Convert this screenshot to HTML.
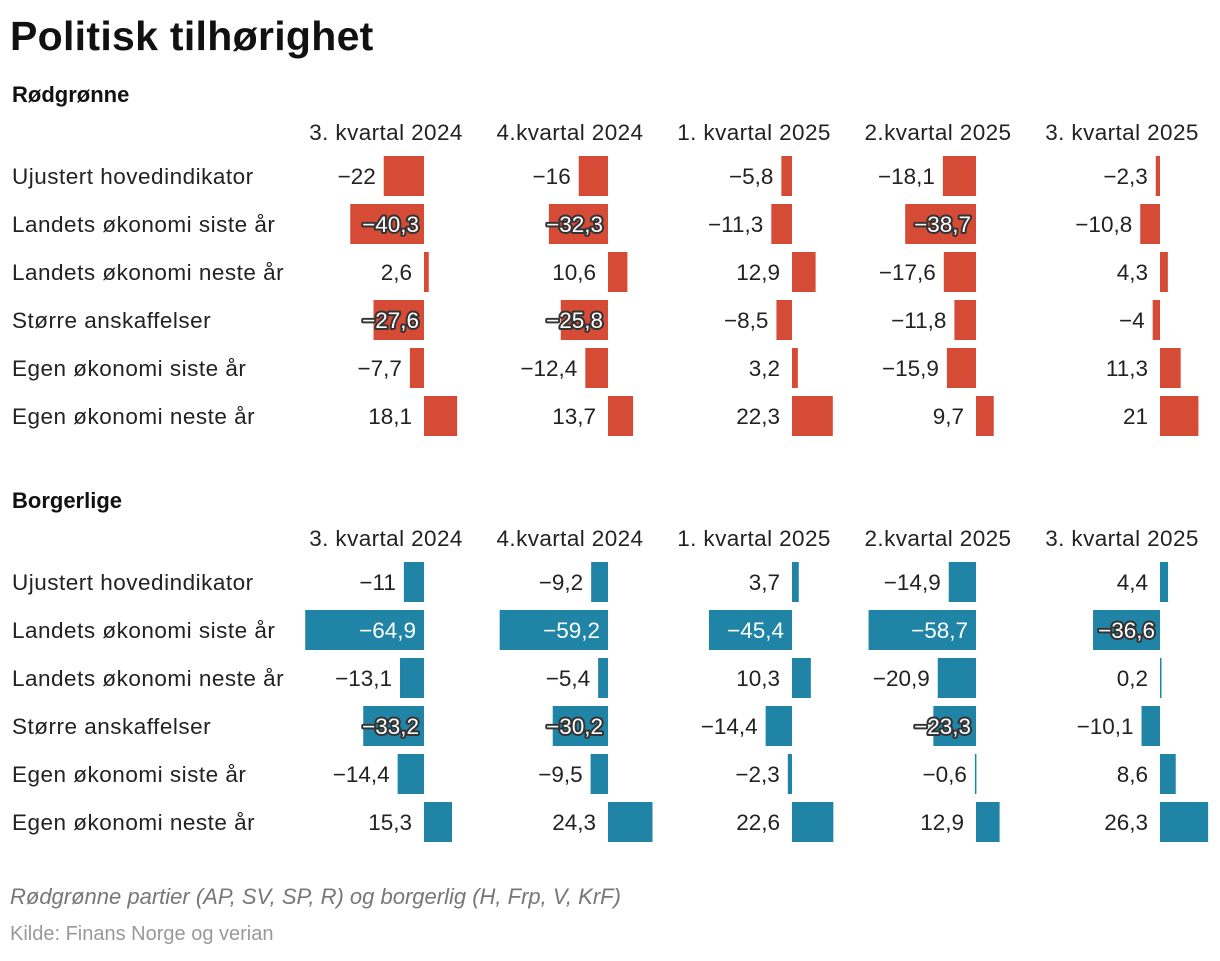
<!DOCTYPE html>
<html><head><meta charset="utf-8">
<style>
body{margin:0;background:#fff;font-family:"Liberation Sans",sans-serif;}
svg text{font-family:"Liberation Sans",sans-serif;}
</style></head>
<body>
<svg id="c" width="1220" height="956" xmlns="http://www.w3.org/2000/svg">
<text x="10" y="50" font-size="41" font-weight="bold" fill="#111" letter-spacing="0.3">Politisk tilhørighet</text>
<text x="10" y="904" font-size="22" font-style="italic" fill="#777">Rødgrønne partier (AP, SV, SP, R) og borgerlig (H, Frp, V, KrF)</text>
<text x="10" y="940" font-size="20" fill="#999">Kilde: Finans Norge og verian</text>
</svg>
<script>
const categories=["Ujustert hovedindikator","Landets økonomi siste år","Landets økonomi neste år","Større anskaffelser","Egen økonomi siste år","Egen økonomi neste år"];
const periods=["3. kvartal 2024","4.kvartal 2024","1. kvartal 2025","2.kvartal 2025","3. kvartal 2025"];
const groups=["Rødgrønne","Borgerlige"];
const redValues=[
[-22,-16,-5.8,-18.1,-2.3],
[-40.3,-32.3,-11.3,-38.7,-10.8],
[2.6,10.6,12.9,-17.6,4.3],
[-27.6,-25.8,-8.5,-11.8,-4],
[-7.7,-12.4,3.2,-15.9,11.3],
[18.1,13.7,22.3,9.7,21]];
const blueValues=[
[-11,-9.2,3.7,-14.9,4.4],
[-64.9,-59.2,-45.4,-58.7,-36.6],
[-13.1,-5.4,10.3,-20.9,0.2],
[-33.2,-30.2,-14.4,-23.3,-10.1],
[-14.4,-9.5,-2.3,-0.6,8.6],
[15.3,24.3,22.6,12.9,26.3]];
const NS="http://www.w3.org/2000/svg";
const svg=document.getElementById('c');
const scale=1.83;
const FS=22.5;
function zeroX(i){return 424+i*184;}
function mk(tag,attrs,txt){const e=document.createElementNS(NS,tag);for(const k in attrs)e.setAttribute(k,attrs[k]);if(txt!==undefined)e.textContent=txt;svg.appendChild(e);return e;}
function fmt(v){return (v<0?"−":"")+String(Math.abs(v)).replace('.',',');}
function section(gi,top,values,color){
  const t=mk('text',{x:12,y:top,'font-size':22,'font-weight':'bold',fill:'#111'},groups[gi]);
  
  
  periods.forEach((p,j)=>{
    const h=mk('text',{x:zeroX(j)-38,y:top+38,'font-size':FS,fill:'#222','text-anchor':'middle','letter-spacing':0.4},p);
    
    
  });
  categories.forEach((c,r)=>{
    const cy=top+74+r*48;
    const l=mk('text',{x:12,y:cy+8,'font-size':FS,fill:'#222','letter-spacing':0.5},c);
    
    
    periods.forEach((p,j)=>{
      const v=values[r][j],z=zeroX(j),w=Math.abs(v)*scale;
      const x=v<0?z-w:z;
      const b=mk('rect',{x:x,y:cy-20,width:Math.max(w,1.5),height:40,fill:color});
      
      
      let tx,attrs={'font-size':FS,'text-anchor':'end',y:cy+8};
      if(v<=-23){
        tx=z-5;attrs.fill='#fff';
        if(v>-44){attrs.stroke='#333';attrs['stroke-width']=4;attrs['paint-order']='stroke';attrs['stroke-linejoin']='round';}
        else tx=z-8;
      }else if(v<0){tx=z-w-8;attrs.fill='#222';}
      else{tx=z-12;attrs.fill='#222';}
      attrs.x=tx;
      const vl=mk('text',attrs,fmt(v));
      
      
    });
  });
}
section(0,102,redValues,'#d64b36');
section(1,508,blueValues,'#2084a6');
</script>
</body></html>
